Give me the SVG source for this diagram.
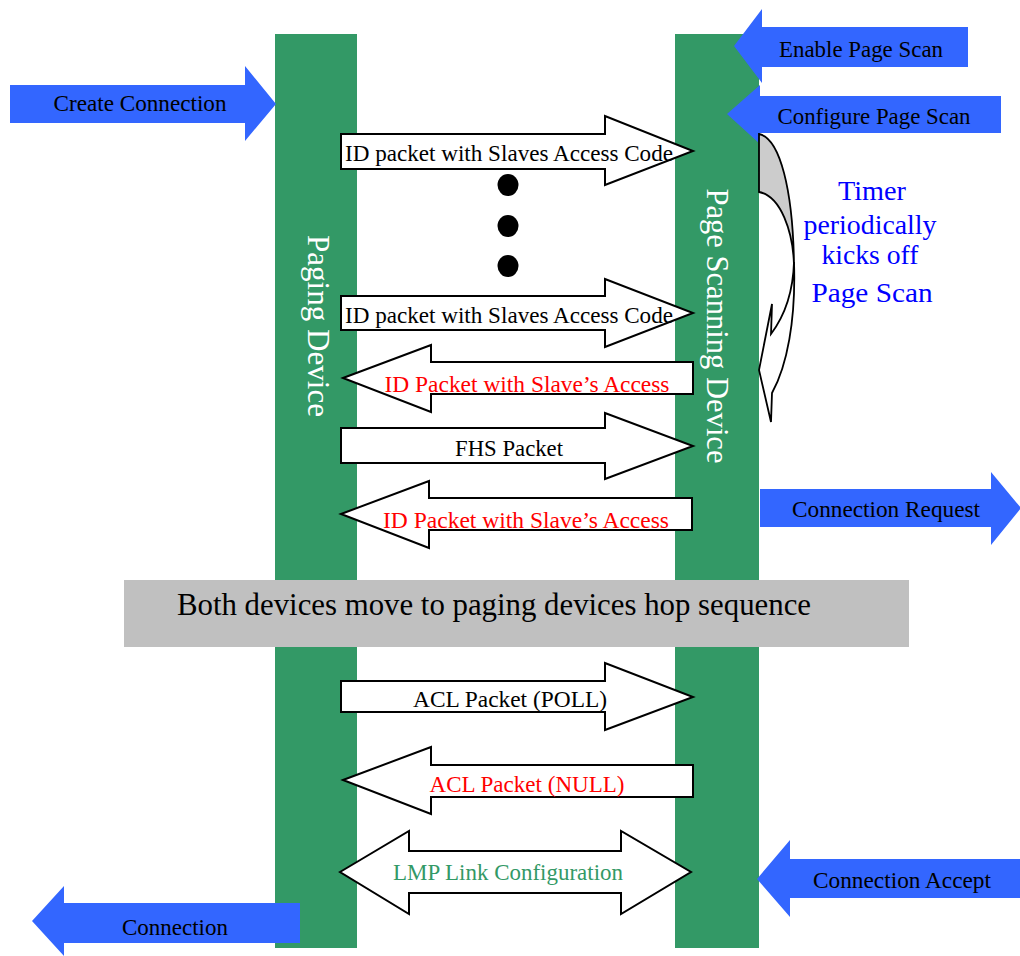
<svg xmlns="http://www.w3.org/2000/svg" width="1020" height="956" viewBox="0 0 1020 956">
  <style>
    .bar { fill: #339966; }
    .blue { fill: #3366FF; }
    .pkt { fill: #FFFFFF; stroke: #000000; stroke-width: 2; stroke-linejoin: miter; }
    .t { font-family: "Liberation Serif", "Times New Roman", serif; text-anchor: middle; }
    .lbl { font-size: 23px; fill: #000000; }
    .red { font-size: 23px; fill: #FF0000; }
    .grn { font-size: 23px; fill: #339966; }
    .dev { font-size: 32px; fill: #FFFFFF; }
    .tmr { font-size: 27px; fill: #0000FF; }
    .dot { fill: #000000; }
  </style>

  <!-- device lifelines -->
  <g id="paging-device">
    <rect class="bar" x="275" y="34" width="82" height="914"/>
    <text class="t dev" transform="translate(308,326) rotate(90)" textLength="182" lengthAdjust="spacingAndGlyphs">Paging Device</text>
  </g>
  <g id="page-scanning-device">
    <rect class="bar" x="675" y="34" width="84" height="914"/>
    <text class="t dev" transform="translate(707,326) rotate(90)" textLength="275" lengthAdjust="spacingAndGlyphs">Page Scanning Device</text>
  </g>

  <!-- hop sequence band -->
  <g id="hop-sequence">
    <rect x="124" y="580" width="785" height="67" fill="#C0C0C0"/>
    <text class="t" x="494" y="615" font-size="31" fill="#000000" textLength="634" lengthAdjust="spacingAndGlyphs">Both devices move to paging devices hop sequence</text>
  </g>

  <!-- host commands and events -->
  <g id="create-connection">
    <polygon class="blue" points="10,85 245,85 245,66 276,104 245,141 245,123 10,123"/>
    <text class="t lbl" x="140" y="111" textLength="173" lengthAdjust="spacingAndGlyphs">Create Connection</text>
  </g>
  <g id="enable-page-scan">
    <polygon class="blue" points="968,27 762,27 762,9 734,46 762,83 762,67 968,67"/>
    <text class="t lbl" x="861" y="57" textLength="164" lengthAdjust="spacingAndGlyphs">Enable Page Scan</text>
  </g>
  <g id="configure-page-scan">
    <polygon class="blue" points="1001,96 760,96 760,85 727,114 760,144 760,133 1001,133"/>
    <text class="t lbl" x="874" y="124" textLength="193" lengthAdjust="spacingAndGlyphs">Configure Page Scan</text>
  </g>
  <g id="connection-request">
    <polygon class="blue" points="760,489 991,489 991,472 1021,508 991,545 991,527 760,527"/>
    <text class="t lbl" x="886" y="517" textLength="188" lengthAdjust="spacingAndGlyphs">Connection Request</text>
  </g>
  <g id="connection-accept">
    <polygon class="blue" points="1020,859 790,859 790,840 757,879 790,917 790,898 1020,898"/>
    <text class="t lbl" x="902" y="888" textLength="178" lengthAdjust="spacingAndGlyphs">Connection Accept</text>
  </g>
  <g id="connection">
    <polygon class="blue" points="300,903 64,903 64,886 32,921 64,956 64,943 300,943"/>
    <text class="t lbl" x="175" y="935" textLength="106" lengthAdjust="spacingAndGlyphs">Connection</text>
  </g>

  <!-- page scan timer loop -->
  <g id="page-scan-timer">
    <path d="M759,134 C780,138 793,190 794,265 C793,232 781,196 759,192 Z" fill="#CCCCCC" stroke="#000000" stroke-width="1.8"/>
    <path d="M794,262 C796,320 787,366 772,393 L771,422 L759,370 L772,304 L771,334 C783,318 793,296 794,262 Z" fill="#FFFFFF" stroke="#000000" stroke-width="1.8" stroke-linejoin="miter"/>
    <text class="t tmr" x="872" y="200" textLength="68" lengthAdjust="spacingAndGlyphs">Timer</text>
    <text class="t tmr" x="870" y="234" textLength="133" lengthAdjust="spacingAndGlyphs">periodically</text>
    <text class="t tmr" x="870" y="264" textLength="97" lengthAdjust="spacingAndGlyphs">kicks off</text>
    <text class="t tmr" x="872" y="302" textLength="121" lengthAdjust="spacingAndGlyphs">Page Scan</text>
  </g>

  <!-- packet exchanges -->
  <g id="connectors">
    <g id="id-packet-1">
      <polygon class="pkt" points="341,134 605,134 605,116 693,151 605,185 605,169 341,169"/>
      <text class="t lbl" x="509" y="161" textLength="328" lengthAdjust="spacingAndGlyphs">ID packet with Slaves Access Code</text>
    </g>
    <g id="repeat-dots">
      <ellipse class="dot" cx="508" cy="185" rx="10.5" ry="11"/>
      <ellipse class="dot" cx="508" cy="226" rx="10.5" ry="11"/>
      <ellipse class="dot" cx="508" cy="266" rx="10.5" ry="11"/>
    </g>
    <g id="id-packet-2">
      <polygon class="pkt" points="341,296 605,296 605,279 693,313 605,347 605,330 341,330"/>
      <text class="t lbl" x="509" y="323" textLength="328" lengthAdjust="spacingAndGlyphs">ID packet with Slaves Access Code</text>
    </g>
    <g id="id-response-1">
      <polygon class="pkt" points="343,378 431,345 431,362 693,362 693,394 431,394 431,412"/>
      <text class="t red" x="527" y="392" textLength="285" lengthAdjust="spacingAndGlyphs">ID Packet with Slave’s Access</text>
    </g>
    <g id="fhs-packet">
      <polygon class="pkt" points="341,428 605,428 605,413 693,446 605,479 605,463 341,463"/>
      <text class="t lbl" x="509" y="456" textLength="108" lengthAdjust="spacingAndGlyphs">FHS Packet</text>
    </g>
    <g id="id-response-2">
      <polygon class="pkt" points="341,514 429,481 429,498 692,498 692,530 429,530 429,548"/>
      <text class="t red" x="526" y="528" textLength="286" lengthAdjust="spacingAndGlyphs">ID Packet with Slave’s Access</text>
    </g>
    <g id="acl-poll">
      <polygon class="pkt" points="341,681 605,681 605,663 693,697 605,730 605,712 341,712"/>
      <text class="t lbl" x="510" y="707" textLength="194" lengthAdjust="spacingAndGlyphs">ACL Packet (POLL)</text>
    </g>
    <g id="acl-null">
      <polygon class="pkt" points="343,780 431,747 431,765 693,765 693,797 431,797 431,814"/>
      <text class="t red" x="527" y="792" textLength="195" lengthAdjust="spacingAndGlyphs">ACL Packet (NULL)</text>
    </g>
    <g id="lmp-link-config">
      <polygon class="pkt" points="340,872 409,831 409,851 621,851 621,831 691,872 621,914 621,893 409,893 409,914"/>
      <text class="t grn" x="508" y="880" textLength="230" lengthAdjust="spacingAndGlyphs">LMP Link Configuration</text>
    </g>
  </g>
</svg>
